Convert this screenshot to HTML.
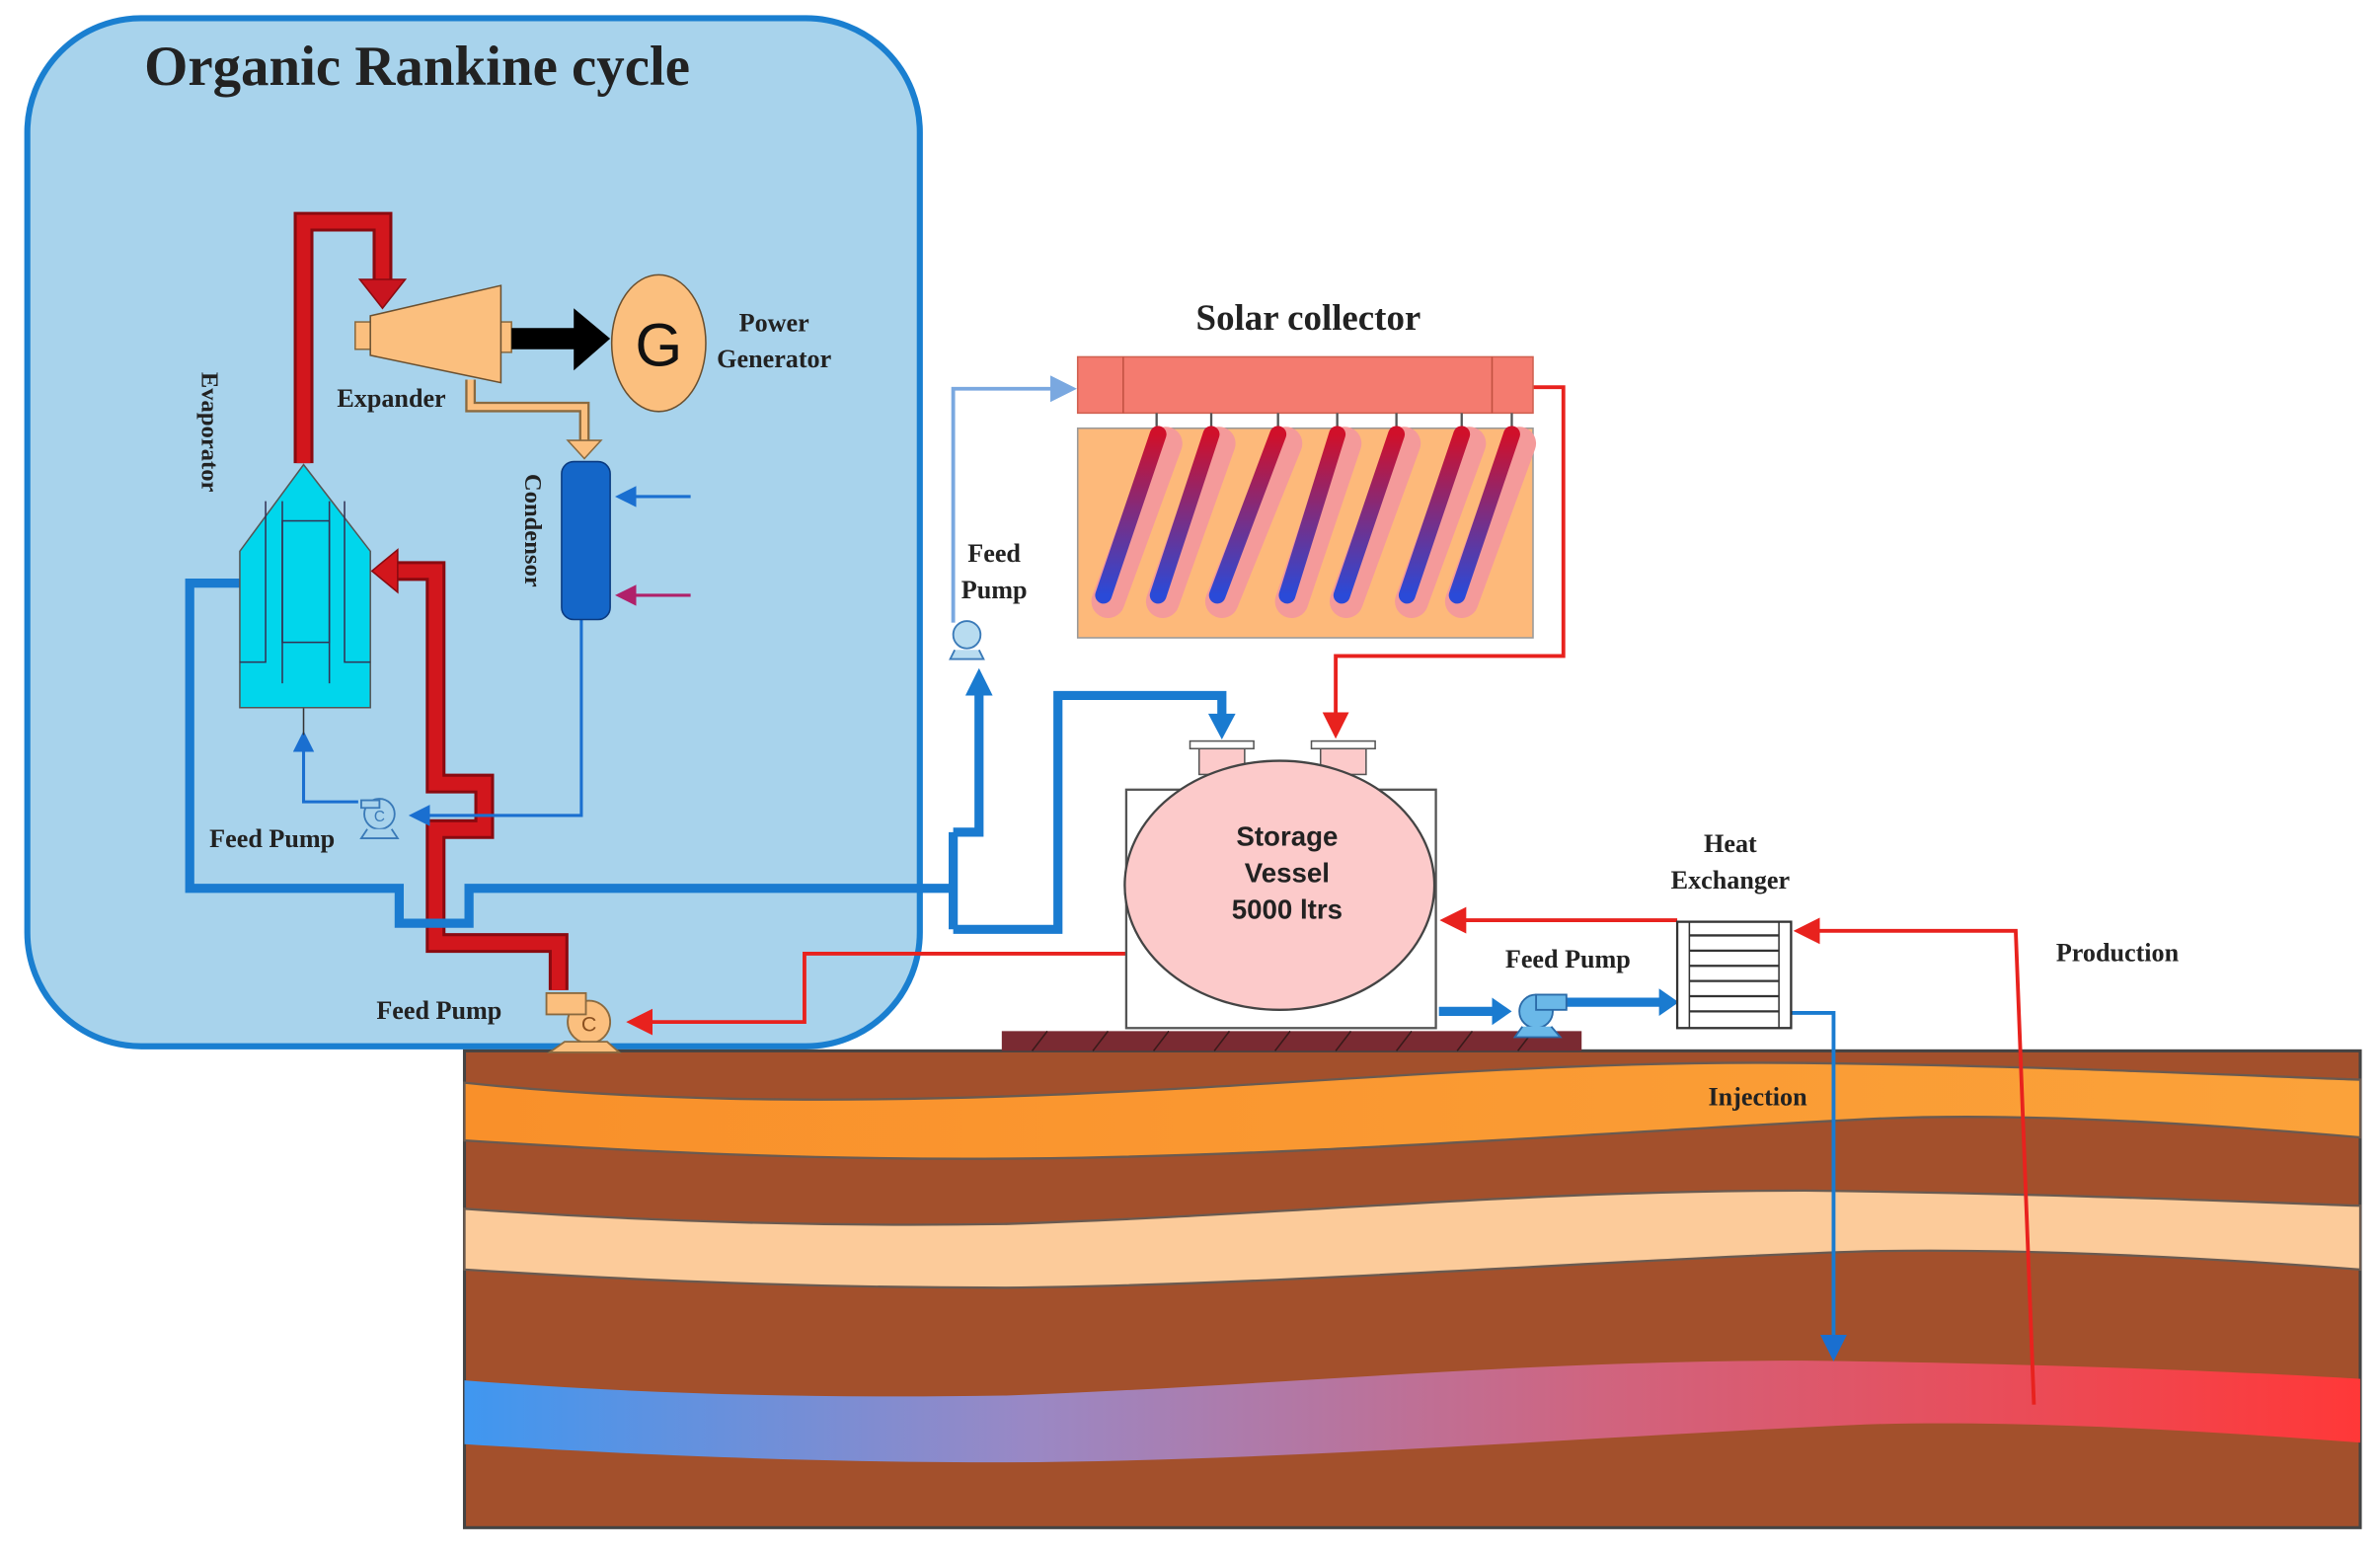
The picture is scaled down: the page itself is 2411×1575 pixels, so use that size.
<!DOCTYPE html>
<html><head><meta charset="utf-8"><style>
html,body{margin:0;padding:0;background:#fff;}
svg{display:block;}
.s{font-family:"Liberation Serif",serif;font-weight:bold;fill:#222;}
</style></head><body>
<svg width="2411" height="1575" viewBox="0 0 1568 1024" preserveAspectRatio="none" xmlns="http://www.w3.org/2000/svg">
<defs>
<linearGradient id="orb" x1="0" y1="0" x2="1" y2="0"><stop offset="0" stop-color="#f9902a"/><stop offset="1" stop-color="#fba23a"/></linearGradient>
<linearGradient id="res" x1="0" y1="0" x2="1" y2="0"><stop offset="0" stop-color="#3f97f0"/><stop offset="0.3" stop-color="#9a88c4"/><stop offset="0.6" stop-color="#d0647f"/><stop offset="1" stop-color="#ff3838"/></linearGradient>
<linearGradient id="tube" x1="0" y1="0" x2="0" y2="1"><stop offset="0" stop-color="#d0102a"/><stop offset="1" stop-color="#2a4ad8"/></linearGradient>
<marker id="abt" viewBox="0 0 10 10" refX="8" refY="5" markerWidth="7" markerHeight="7" orient="auto"><path d="M0,0L10,5L0,10z" fill="#1a6fd0"/></marker>
<marker id="ar" viewBox="0 0 10 10" refX="8" refY="5" markerWidth="7" markerHeight="7" orient="auto"><path d="M0,0L10,5L0,10z" fill="#e8221e"/></marker>
<marker id="alb" viewBox="0 0 10 10" refX="8" refY="5" markerWidth="7" markerHeight="7" orient="auto"><path d="M0,0L10,5L0,10z" fill="#7aa8e0"/></marker>
<marker id="ap" viewBox="0 0 10 10" refX="8" refY="5" markerWidth="7" markerHeight="7" orient="auto"><path d="M0,0L10,5L0,10z" fill="#b0206a"/></marker>
</defs>

<rect x="18" y="12" width="588" height="677" rx="75" fill="#a8d3ec" stroke="#1a7fd0" stroke-width="4"/>
<text x="95" y="56" class="s" font-size="37">Organic Rankine cycle</text>

<rect x="306" y="692" width="1249" height="314" fill="#a3502c" stroke="#444" stroke-width="2"/>
<path d="M306,713 C420,725 540,726 663,722 C850,716 1000,698 1189,700 C1350,702 1470,708 1555,711 L1555,749 C1450,740 1330,732 1229,737 C1050,746 850,762 663,763 C520,764 400,757 306,751 Z" fill="url(#orb)" stroke="#6a5a50" stroke-width="1.5"/>
<path d="M306,796 C420,804 540,808 663,806 C850,800 1000,784 1189,784 C1350,786 1470,791 1555,794 L1555,836 C1450,828 1330,822 1229,824 C1050,830 850,846 663,848 C520,848 400,842 306,836 Z" fill="#fccb9a" stroke="#6a5a50" stroke-width="1.5"/>
<path d="M306,909 C420,918 540,921 663,919 C850,912 1000,896 1189,896 C1350,898 1470,903 1555,908 L1555,950 C1450,942 1330,935 1229,938 C1050,946 850,962 663,963 C520,963 400,957 306,951 Z" fill="url(#res)"/>
<text x="1158" y="728" class="s" font-size="17" text-anchor="middle">Injection</text>

<rect x="660" y="679" width="382" height="13" fill="#7a2a32"/>
<g stroke="#3a1a1a" stroke-width="1">
<line x1="680" y1="692" x2="690" y2="679"/><line x1="720" y1="692" x2="730" y2="679"/><line x1="760" y1="692" x2="770" y2="679"/><line x1="800" y1="692" x2="810" y2="679"/><line x1="840" y1="692" x2="850" y2="679"/><line x1="880" y1="692" x2="890" y2="679"/><line x1="920" y1="692" x2="930" y2="679"/><line x1="960" y1="692" x2="970" y2="679"/><line x1="1000" y1="692" x2="1010" y2="679"/></g>

<g fill="none" stroke="#8a0a10" stroke-width="13">
<path d="M200,305 V146 H252 V188"/>
<path d="M368,652 V621 H287 V546 H319 V516 H287 V376 H262"/>
</g>
<g fill="none" stroke="#d2161c" stroke-width="9">
<path d="M200,305 V146 H252 V188"/>
<path d="M368,652 V621 H287 V546 H319 V516 H287 V376 H262"/>
</g>
<path d="M237,184 H267 L252,203 Z" fill="#c8141e" stroke="#8a0a10"/>
<path d="M262,362 V390 L245,376 Z" fill="#d2161c" stroke="#8a0a10"/>

<g fill="none" stroke="#1a7bd0" stroke-width="6">
<path d="M158,384 H125 V585 H263 V608 H309 V585 H628"/>
<path d="M628,548 V612"/>
<path d="M628,548 H645 V452"/>
<path d="M628,612 H697 V458 H805 V472"/>
<path d="M948,666 H985"/>
<path d="M1030,660 H1095"/>
</g>
<path d="M636,458 L645,440 L654,458 Z" fill="#1a7bd0"/>
<path d="M796,470 L805,487 L814,470 Z" fill="#1a7bd0"/>
<path d="M983,657 L996,666 L983,675 Z" fill="#1a7bd0"/>
<path d="M1093,651 L1106,660 L1093,669 Z" fill="#1a7bd0"/>

<path d="M628,410 V256 H706" fill="none" stroke="#7aa8e0" stroke-width="2.5" marker-end="url(#alb)"/>
<path d="M1010,255 H1030 V432 H880 V483" fill="none" stroke="#e8221e" stroke-width="2.5" marker-end="url(#ar)"/>
<path d="M742,628 H530 V673 H416" fill="none" stroke="#e8221e" stroke-width="2.5" marker-end="url(#ar)"/>
<path d="M1105,606 H952" fill="none" stroke="#e8221e" stroke-width="2.5" marker-end="url(#ar)"/>
<path d="M1340,925 L1328,613 H1185" fill="none" stroke="#e8221e" stroke-width="2.5" marker-end="url(#ar)"/>
<path d="M1180,667 H1208 V893" fill="none" stroke="#1a7bd0" stroke-width="2.5" marker-end="url(#abt)"/>
<path d="M383,408 V537 H272" fill="none" stroke="#1a6fd0" stroke-width="2" marker-end="url(#abt)"/>
<path d="M236,528 H200 V484" fill="none" stroke="#1a6fd0" stroke-width="2" marker-end="url(#abt)"/>
<line x1="200" y1="423" x2="200" y2="484" stroke="#333" stroke-width="1"/>
<path d="M455,327 H408" fill="none" stroke="#1a6fd0" stroke-width="2" marker-end="url(#abt)"/>
<path d="M455,392 H408" fill="none" stroke="#b0206a" stroke-width="2" marker-end="url(#ap)"/>

<path d="M200,306 L244,363 V466 H158 V363 Z" fill="#00d6ec" stroke="#555" stroke-width="1"/>
<g stroke="#335" stroke-width="1" fill="none">
<rect x="186" y="343" width="31" height="80"/>
<path d="M175,330 V436 H158 M186,330 V450 M217,330 V450 M227,330 V436 H244"/>
</g>
<text transform="translate(133,245) rotate(90)" class="s" font-size="16">Evaporator</text>

<path d="M310,250 V268 H385 V292" fill="none" stroke="#8a6a40" stroke-width="7"/>
<path d="M310,250 V268 H385 V292" fill="none" stroke="#fbbf7e" stroke-width="4"/>
<path d="M374,290 H396 L385,302 Z" fill="#fbbf7e" stroke="#8a6a40"/>
<rect x="234" y="212" width="12" height="18" fill="#fbbf7e" stroke="#8a6a40"/>
<rect x="327" y="212" width="10" height="20" fill="#fbbf7e" stroke="#8a6a40"/>
<path d="M244,208 L330,188 V252 L244,234 Z" fill="#fbbf7e" stroke="#6a5030"/>
<path d="M337,216 H378 V203 L402,223 L378,244 V230 H337 Z" fill="#000"/>
<ellipse cx="434" cy="226" rx="31" ry="45" fill="#fbbf7e" stroke="#6a5030"/>
<text x="434" y="241" font-family="Liberation Sans,sans-serif" font-size="40" text-anchor="middle" fill="#111">G</text>
<text x="510" y="218" class="s" font-size="17" text-anchor="middle">Power</text>
<text x="510" y="242" class="s" font-size="17" text-anchor="middle">Generator</text>
<text x="222" y="268" class="s" font-size="17">Expander</text>

<rect x="370" y="304" width="32" height="104" rx="8" fill="#1466c8" stroke="#0a3a80"/>
<text transform="translate(346,312) rotate(90)" class="s" font-size="16">Condensor</text>

<g stroke="#3a7ab8" stroke-width="1.2" fill="#a8d3ec">
<circle cx="250" cy="536" r="10"/><path d="M238,527 H250 V532 H238 Z"/><path d="M242,546 L238,552 H262 L258,546"/>
</g>
<text x="250" y="541" font-size="10" text-anchor="middle" fill="#3a7ab8" font-family="Liberation Sans,sans-serif">C</text>
<text x="138" y="558" class="s" font-size="17">Feed Pump</text>

<g stroke="#8a6a40" stroke-width="1.2" fill="#fbbf7e">
<circle cx="388" cy="673" r="14"/><rect x="360" y="654" width="26" height="14"/><path d="M372,686 L362,693 H408 L400,686 Z"/>
</g>
<text x="388" y="679" font-size="14" text-anchor="middle" fill="#8a5020" font-family="Liberation Sans,sans-serif">C</text>
<text x="248" y="671" class="s" font-size="17">Feed Pump</text>

<g stroke="#3a7ab8" stroke-width="1.2" fill="#b8dcf0">
<circle cx="637" cy="418" r="9"/><path d="M629,428 L626,434 H648 L645,428"/></g>
<text x="655" y="370" class="s" font-size="17" text-anchor="middle">Feed</text>
<text x="655" y="394" class="s" font-size="17" text-anchor="middle">Pump</text>

<text x="862" y="217" class="s" font-size="24" text-anchor="middle">Solar collector</text>
<rect x="710" y="235" width="300" height="37" fill="#f47b6f" stroke="#d06050"/>
<line x1="740" y1="235" x2="740" y2="272" stroke="#c05040"/><line x1="983" y1="235" x2="983" y2="272" stroke="#c05040"/>
<g stroke="#555" stroke-width="1.5">
<line x1="762" y1="272" x2="762" y2="282"/><line x1="798" y1="272" x2="798" y2="282"/><line x1="842" y1="272" x2="842" y2="282"/><line x1="881" y1="272" x2="881" y2="282"/><line x1="920" y1="272" x2="920" y2="282"/><line x1="963" y1="272" x2="963" y2="282"/><line x1="996" y1="272" x2="996" y2="282"/></g>
<rect x="710" y="282" width="300" height="138" fill="#fdb97a" stroke="#999"/>
<g stroke-linecap="round" fill="none">
<g stroke="#f49a9a" stroke-width="22">
<line x1="768" y1="292" x2="730" y2="396"/><line x1="803" y1="292" x2="766" y2="396"/><line x1="847" y1="292" x2="805" y2="396"/><line x1="886" y1="292" x2="851" y2="396"/><line x1="925" y1="292" x2="887" y2="396"/><line x1="968" y1="292" x2="930" y2="396"/><line x1="1001" y1="292" x2="963" y2="396"/></g>
<g stroke="url(#tube)" stroke-width="11">
<line x1="763" y1="286" x2="727" y2="392"/><line x1="798" y1="286" x2="763" y2="392"/><line x1="842" y1="286" x2="802" y2="392"/><line x1="881" y1="286" x2="848" y2="392"/><line x1="920" y1="286" x2="884" y2="392"/><line x1="963" y1="286" x2="927" y2="392"/><line x1="996" y1="286" x2="960" y2="392"/></g>
</g>

<rect x="742" y="520" width="204" height="157" fill="#fff" stroke="#555" stroke-width="1.5"/>
<rect x="790" y="492" width="30" height="18" fill="#fccaca" stroke="#555"/><rect x="784" y="488" width="42" height="5" fill="#fff" stroke="#555"/>
<rect x="870" y="492" width="30" height="18" fill="#fccaca" stroke="#555"/><rect x="864" y="488" width="42" height="5" fill="#fff" stroke="#555"/>
<rect x="828" y="640" width="32" height="14" fill="#fccaca" stroke="#555"/><rect x="822" y="654" width="44" height="5" fill="#fff" stroke="#555"/>
<ellipse cx="843" cy="583" rx="102" ry="82" fill="#fccaca" stroke="#444" stroke-width="1.5"/>
<g font-family="Liberation Sans,sans-serif" font-size="18" font-weight="bold" text-anchor="middle" fill="#222">
<text x="848" y="557">Storage</text><text x="848" y="581">Vessel</text><text x="848" y="605">5000 ltrs</text></g>

<g stroke="#2a6aa8" stroke-width="1.2" fill="#6ab8e8">
<circle cx="1012" cy="666" r="11"/><rect x="1012" y="655" width="20" height="10"/><path d="M1003,676 L998,683 H1028 L1022,676"/></g>
<text x="1033" y="637" class="s" font-size="17" text-anchor="middle">Feed Pump</text>

<rect x="1105" y="607" width="75" height="70" fill="#fff" stroke="#333" stroke-width="1.5"/>
<rect x="1113" y="607" width="59" height="70" fill="none" stroke="#333"/>
<g stroke="#333" stroke-width="1.5"><line x1="1113" y1="616" x2="1172" y2="616"/><line x1="1113" y1="626" x2="1172" y2="626"/><line x1="1113" y1="636" x2="1172" y2="636"/><line x1="1113" y1="646" x2="1172" y2="646"/><line x1="1113" y1="656" x2="1172" y2="656"/><line x1="1113" y1="666" x2="1172" y2="666"/></g>
<text x="1140" y="561" class="s" font-size="17" text-anchor="middle">Heat</text>
<text x="1140" y="585" class="s" font-size="17" text-anchor="middle">Exchanger</text>
<text x="1395" y="633" class="s" font-size="17" text-anchor="middle">Production</text>
</svg>
</body></html>
